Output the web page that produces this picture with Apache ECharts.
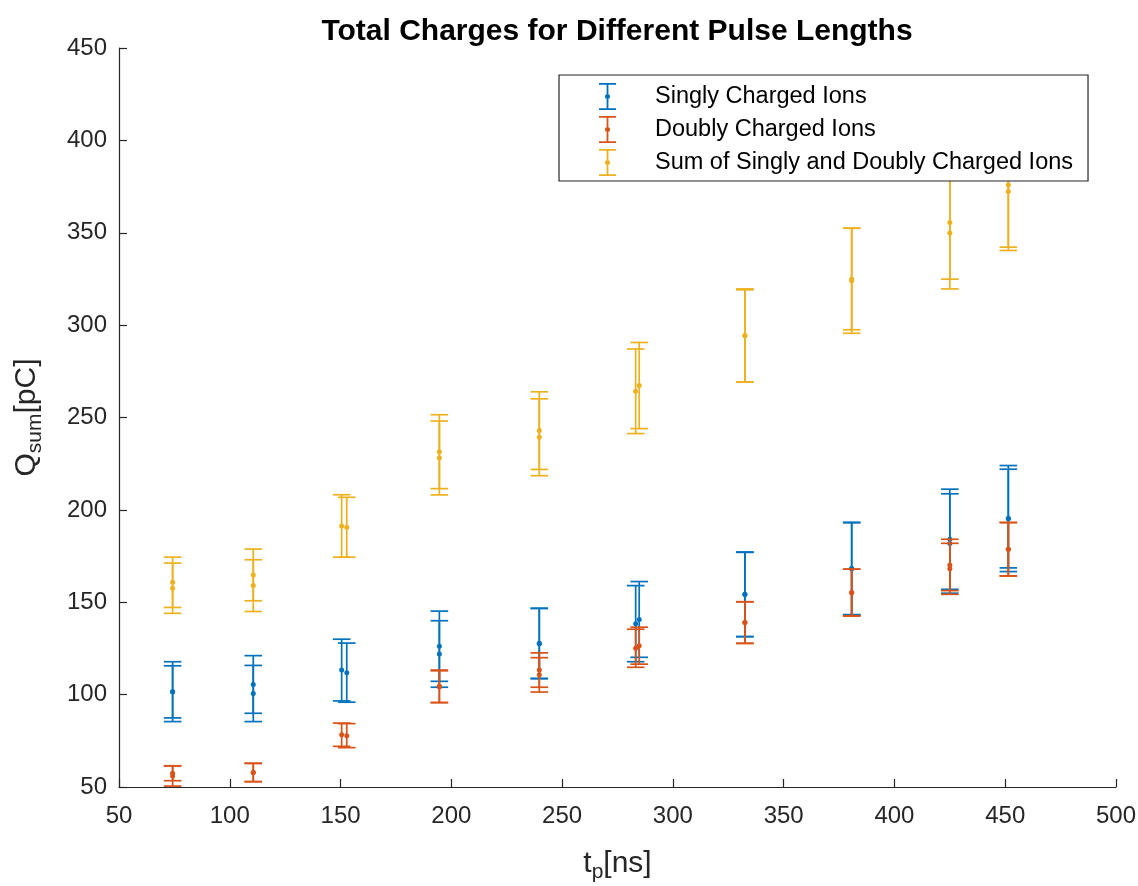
<!DOCTYPE html>
<html>
<head>
<meta charset="utf-8">
<title>Total Charges for Different Pulse Lengths</title>
<script src="https://cdn.jsdelivr.net/npm/echarts@6/dist/echarts.min.js"></script>
<style>
  html, body { margin: 0; padding: 0; background: #fff; }
  #chart { width: 1138px; height: 886px; }
</style>
</head>
<body>
<div id="chart"></div>
<script>
// Pulse lengths (ns): two measurement runs per setting
const pulseA = [74.2, 110.6, 150.5, 194.6, 239.7, 283.2, 332.5, 380.7, 425.0, 451.4];
const pulseB = [74.2, 110.6, 152.8, 194.6, 239.7, 284.8, 332.5, 380.7, 425.0, 451.4];

// Singly charged ions: mean charge and error (pC)
const singlyA    = [101.6, 105.5, 113.3, 126.2, 127.8, 138.4, 154.3, 168.3, 184.1, 195.3];
const singlyErrA = [16.2, 15.6, 16.7, 19.0, 19.0, 20.6, 22.9, 25.0, 27.1, 28.7];
const singlyB    = [101.5, 100.6, 111.9, 122.0, 127.6, 140.7, 154.2, 168.1, 181.8, 195.3];
const singlyErrB = [14.1, 15.2, 16.0, 18.0, 19.0, 20.5, 22.8, 24.9, 26.9, 26.7];

// Doubly charged ions
const doublyA    = [57.4, 57.9, 78.3, 104.5, 113.3, 125.1, 139.0, 155.2, 170.2, 178.7];
const doublyErrA = [4.0, 5.0, 6.3, 8.8, 9.3, 10.3, 11.3, 12.7, 13.9, 14.5];
const doublyB    = [56.0, 57.8, 77.8, 104.3, 110.7, 126.5, 139.0, 155.3, 168.1, 178.7];
const doublyErrB = [5.5, 4.9, 6.5, 8.6, 9.3, 10.0, 11.2, 12.6, 13.8, 14.4];

// Sum of singly and doubly charged ions
const sumA    = [160.8, 164.8, 191.3, 231.5, 242.9, 264.2, 294.4, 325.0, 355.5, 375.9];
const sumErrA = [13.6, 14.0, 16.9, 20.0, 21.0, 22.9, 25.2, 27.5, 30.6, 33.7];
const sumB    = [157.6, 159.0, 190.6, 228.1, 239.3, 267.3, 294.2, 324.0, 349.8, 372.3];
const sumErrB = [13.6, 14.0, 16.2, 20.0, 20.8, 23.3, 24.9, 28.4, 30.2, 31.9];

const seriesNames = [
  'Singly Charged Ions',
  'Doubly Charged Ions',
  'Sum of Singly and Doubly Charged Ions'
];
const seriesColors = ['#0072BD', '#D95319', '#EDB120'];

const xTicks = [50, 100, 150, 200, 250, 300, 350, 400, 450, 500];
const yTicks = [50, 100, 150, 200, 250, 300, 350, 400, 450];

const FONT = '"Liberation Sans", Arial, Helvetica, sans-serif';
const INK = '#262626';

function buildPoints(valsA, errA, valsB, errB) {
  const out = [];
  for (let i = 0; i < pulseA.length; i++) {
    out.push([pulseA[i], valsA[i], errA[i]]);
    out.push([pulseB[i], valsB[i], errB[i]]);
  }
  return out;
}

const CAP_HALF = 8.8;

function renderErrorBar(params, api) {
  const x = api.value(0), y = api.value(1), e = api.value(2);
  const top = api.coord([x, y + e]);
  const bot = api.coord([x, y - e]);
  const mid = api.coord([x, y]);
  const color = api.visual('color');
  const lineStyle = { stroke: color, lineWidth: 1.7, fill: null };
  return {
    type: 'group',
    children: [
      { type: 'line', shape: { x1: top[0], y1: top[1], x2: bot[0], y2: bot[1] }, style: lineStyle },
      { type: 'line', shape: { x1: top[0] - CAP_HALF, y1: top[1], x2: top[0] + CAP_HALF, y2: top[1] }, style: lineStyle },
      { type: 'line', shape: { x1: bot[0] - CAP_HALF, y1: bot[1], x2: bot[0] + CAP_HALF, y2: bot[1] }, style: lineStyle },
      { type: 'circle', shape: { cx: mid[0], cy: mid[1], r: 2.5 }, style: { fill: color, stroke: null } }
    ]
  };
}

// Error-bar glyph for the legend (caps, stem split around the marker dot)
const ERRBAR_ICON = 'path://M0,0 H17 V1.7 H0 Z M7.6,0 H9.4 V11 H7.6 Z M7.6,16 H9.4 V27 H7.6 Z M0,25.3 H17 V27 H0 Z ' +
  'M11,13.5 A2.5,2.5 0 1,1 6,13.5 A2.5,2.5 0 1,1 11,13.5 Z';

const chart = echarts.init(document.getElementById('chart'), null, { renderer: 'canvas' });

const seriesData = [
  buildPoints(singlyA, singlyErrA, singlyB, singlyErrB),
  buildPoints(doublyA, doublyErrA, doublyB, doublyErrB),
  buildPoints(sumA, sumErrA, sumB, sumErrB)
];

chart.setOption({
  backgroundColor: '#ffffff',
  animation: false,
  textStyle: { fontFamily: FONT },
  title: {
    text: 'Total Charges for Different Pulse Lengths',
    left: 612,
    textAlign: 'center',
    top: 12,
    textStyle: { fontFamily: FONT, fontWeight: 'bold', fontSize: 30, color: '#000' }
  },
  legend: {
    orient: 'vertical',
    left: 559,
    top: 75,
    padding: [8, 15, 5, 40],
    itemGap: 6,
    itemWidth: 17,
    itemHeight: 27,
    selectedMode: false,
    backgroundColor: '#ffffff',
    borderColor: INK,
    borderWidth: 1.2,
    borderRadius: 0,
    z: 10,
    textStyle: { fontFamily: FONT, fontSize: 23.5, color: '#000', padding: [0, 0, 0, 34] },
    data: seriesNames.map(n => ({ name: n, icon: ERRBAR_ICON }))
  },
  grid: { left: 119, right: 22, top: 48, bottom: 99, containLabel: false, outerBoundsMode: 'none' },
  xAxis: {
    type: 'value',
    min: xTicks[0],
    max: xTicks[xTicks.length - 1],
    interval: 50,
    name: '{a|t}{s|p}{a|[ns]}',
    nameLocation: 'middle',
    nameGap: 57,
    nameTextStyle: {
      rich: {
        a: { fontFamily: FONT, fontSize: 30, color: INK },
        s: { fontFamily: FONT, fontSize: 21, color: INK, padding: [18, 0, 0, 0] }
      }
    },
    axisLine: { show: true, lineStyle: { color: INK, width: 1.2 } },
    axisTick: { show: true, inside: true, length: 8, lineStyle: { color: INK, width: 1.2 } },
    axisLabel: { fontFamily: FONT, fontSize: 24, color: INK, margin: 17 },
    splitLine: { show: false }
  },
  yAxis: {
    type: 'value',
    min: yTicks[0],
    max: yTicks[yTicks.length - 1],
    interval: 50,
    name: '{a|Q}{s|sum}{a|[pC]}',
    nameLocation: 'middle',
    nameGap: 73,
    nameRotate: 90,
    nameTextStyle: {
      rich: {
        a: { fontFamily: FONT, fontSize: 30, color: INK },
        s: { fontFamily: FONT, fontSize: 21, color: INK, padding: [18, 0, 0, 0] }
      }
    },
    axisLine: { show: true, lineStyle: { color: INK, width: 1.2 } },
    axisTick: { show: true, inside: true, length: 8, lineStyle: { color: INK, width: 1.2 } },
    axisLabel: { fontFamily: FONT, fontSize: 24, color: INK, margin: 12 },
    splitLine: { show: false }
  },
  series: seriesNames.map((name, k) => ({
    name: name,
    type: 'custom',
    renderItem: renderErrorBar,
    itemStyle: { color: seriesColors[k] },
    encode: { x: 0, y: 1 },
    data: seriesData[k],
    z: 2
  }))
});
</script>
</body>
</html>
